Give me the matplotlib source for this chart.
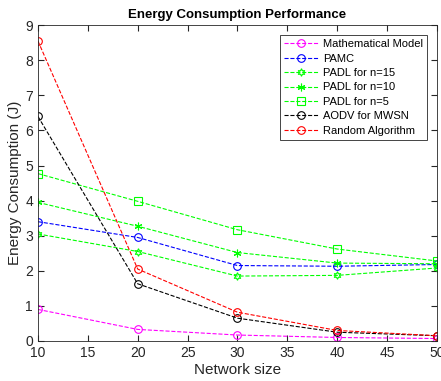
import matplotlib
matplotlib.use('Agg')
import matplotlib.pyplot as plt

plt.rcParams['font.family'] = ['Liberation Sans', 'DejaVu Sans']

network_size = [10, 20, 30, 40, 50]

math_model = [0.9, 0.33, 0.17, 0.1, 0.07]
pamc = [3.4, 2.95, 2.15, 2.13, 2.18]
padl_15 = [3.05, 2.55, 1.85, 1.87, 2.08]
padl_10 = [3.95, 3.27, 2.52, 2.22, 2.2]
padl_5 = [4.77, 3.98, 3.17, 2.62, 2.28]
aodv = [6.4, 1.63, 0.65, 0.25, 0.15]
random_alg = [8.55, 2.05, 0.82, 0.3, 0.15]

fig = plt.figure(figsize=(4.41, 3.81), dpi=100)
ax = fig.add_axes([0.086, 0.105, 0.905, 0.829])

kw = dict(linestyle='--', linewidth=0.8, markersize=5.5, markerfacecolor='none', markeredgewidth=0.8)
ax.plot(network_size, math_model, color='#ff00ff', marker='o', label='Mathematical Model', **kw)
ax.plot(network_size, pamc, color='#0000ff', marker='o', label='PAMC', **kw)
ax.plot(network_size, padl_15, color='#00ff00', marker=(6, 1, 0), label='PADL for n=15', **kw)
ax.plot(network_size, padl_10, color='#00ff00', marker=(6, 2, 0), label='PADL for n=10', **kw)
ax.plot(network_size, padl_5, color='#00ff00', marker='s', label='PADL for n=5', **kw)
ax.plot(network_size, aodv, color='black', marker='o', label='AODV for MWSN', **kw)
ax.plot(network_size, random_alg, color='#ff0000', marker='o', label='Random Algorithm', **kw)

ax.set_xlim(10, 50)
ax.set_ylim(0, 9)
ax.set_xticks(range(10, 51, 5))
ax.set_yticks(range(0, 10))
ax.tick_params(direction='in', top=True, right=True, labelsize=10, length=4, colors='#262626')
for s in ax.spines.values():
    s.set_color('#262626')
    s.set_linewidth(0.6)

ax.set_title('Energy Consumption Performance', fontsize=9.5, fontweight='bold', pad=5)
ax.set_xlabel('Network size', fontsize=11, color='#262626', labelpad=2)
ax.set_ylabel('Energy Consumption (J)', fontsize=11, color='#262626', labelpad=2)

leg = ax.legend(loc='upper right', bbox_to_anchor=(0.975, 0.968), fontsize=8, fancybox=False,
                edgecolor='#262626', framealpha=1, borderaxespad=0, handlelength=3.0,
                handletextpad=0.5, labelspacing=0.4, borderpad=0.35)
leg.get_frame().set_linewidth(0.6)

fig.savefig('out.png', dpi=100)
plt.close(fig)
